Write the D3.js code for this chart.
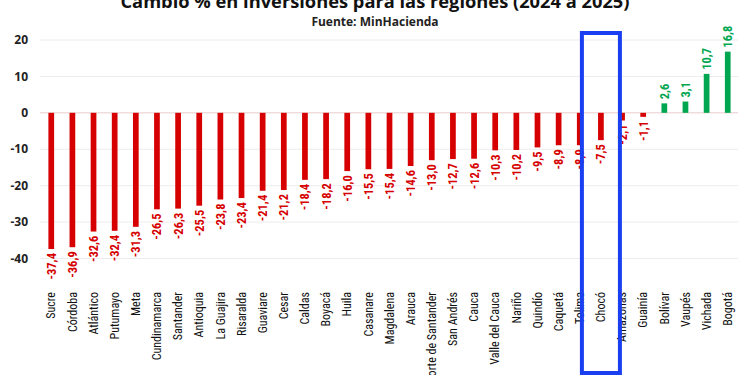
<!DOCTYPE html>
<html>
<head>
<meta charset="utf-8">
<script src="https://cdn.jsdelivr.net/npm/d3@7"></script>
<style>
  body { margin: 0; background: #fff; }
  svg { display: block; font-family: "Open Sans", "Liberation Sans", sans-serif; }
</style>
</head>
<body>
<svg id="chart" width="750" height="375"></svg>
<script>
// regiones y cambio % (2024 a 2025)
var regions = ['Sucre', 'Córdoba', 'Atlántico', 'Putumayo', 'Meta', 'Cundinamarca', 'Santander',
    'Antioquia', 'La Guajira', 'Risaralda', 'Guaviare', 'Cesar', 'Caldas', 'Boyacá', 'Huila',
    'Casanare', 'Magdalena', 'Arauca', 'Norte de Santander', 'San Andrés', 'Cauca',
    'Valle del Cauca', 'Nariño', 'Quindío', 'Caquetá', 'Tolima', 'Chocó', 'Amazonas', 'Guainía',
    'Bolívar', 'Vaupés', 'Vichada', 'Bogotá'];
var change = [-37.4, -36.9, -32.6, -32.4, -31.3, -26.5, -26.3, -25.5, -23.8, -23.4, -21.4, -21.2,
    -18.4, -18.2, -16.0, -15.5, -15.4, -14.6, -13.0, -12.7, -12.6, -10.3, -10.2, -9.5, -8.9, -8.9,
    -7.5, -2.1, -1.1, 2.6, 3.1, 10.7, 16.8];
var yTicks = [20, 10, 0, -10, -20, -30, -40];
var highlight = 'Chocó';

var data = regions.map(function(r, i){ return {name: r, value: change[i]}; });

var svg = d3.select('#chart');
var red = '#d60000', green = '#00a650';
var narrow = '"Liberation Sans Narrow", "Roboto Condensed", "Open Sans", sans-serif';

var x = d3.scaleBand()
    .domain(regions)
    .range([41, 738])
    .paddingInner(0.73)
    .paddingOuter(0.35);

var y = d3.scaleLinear()
    .domain([-40, 20])
    .range([258.5, 40]);

// titulo
svg.append('text')
    .attr('x', 375).attr('y', 8)
    .attr('text-anchor', 'middle')
    .attr('font-size', 18.3).attr('font-weight', 'bold')
    .attr('fill', '#111')
    .text('Cambio % en inversiones para las regiones (2024 a 2025)');
svg.append('text')
    .attr('x', 375).attr('y', 25.5)
    .attr('text-anchor', 'middle')
    .attr('font-size', 12).attr('font-weight', 'bold')
    .attr('fill', '#222')
    .text('Fuente: MinHacienda');

// grid
svg.append('g')
    .selectAll('line')
    .data(yTicks)
    .join('line')
    .attr('x1', 40).attr('x2', 738)
    .attr('y1', function(d){ return y(d); })
    .attr('y2', function(d){ return y(d); })
    .attr('stroke', function(d){ return d == 0 ? '#e8cccc' : '#ececec'; })
    .attr('stroke-width', 1);

svg.append('g')
    .selectAll('text')
    .data(yTicks)
    .join('text')
    .attr('x', 28)
    .attr('y', function(d){ return y(d); })
    .attr('dy', '0.35em')
    .attr('text-anchor', 'end')
    .attr('font-size', 12).attr('font-weight', 'bold')
    .attr('fill', '#222')
    .text(function(d){ return d; });

// barras
svg.append('g')
    .selectAll('rect')
    .data(data)
    .join('rect')
    .attr('x', function(d){ return x(d.name); })
    .attr('width', x.bandwidth())
    .attr('y', function(d){ return y(Math.max(0, d.value)); })
    .attr('height', function(d){ return Math.abs(y(d.value) - y(0)); })
    .attr('fill', function(d){ return d.value < 0 ? red : green; });

// etiquetas de valor
var fmt = function(v){ return v.toFixed(1).replace('.', ','); };
svg.append('g')
    .selectAll('text')
    .data(data)
    .join('text')
    .attr('transform', function(d){
        var cx = x(d.name) + x.bandwidth() / 2;
        var cy = d.value < 0 ? y(d.value) + 4 : y(d.value) - 4;
        return 'translate(' + cx + ',' + cy + ') rotate(-90)';
    })
    .attr('dy', '0.36em')
    .attr('text-anchor', function(d){ return d.value < 0 ? 'end' : 'start'; })
    .attr('font-size', 12.5).attr('font-weight', 'bold')
    .attr('fill', function(d){ return d.value < 0 ? red : green; })
    .style('font-family', narrow)
    .text(function(d){ return fmt(d.value); });

// etiquetas de categoria
svg.append('g')
    .selectAll('text')
    .data(regions)
    .join('text')
    .attr('transform', function(d){
        return 'translate(' + (x(d) + x.bandwidth() / 2) + ',292) rotate(-90)';
    })
    .attr('dy', '0.35em')
    .attr('text-anchor', 'end')
    .attr('font-size', 12)
    .attr('fill', '#111')
    .style('font-family', narrow)
    .text(function(d){ return d; });

// recuadro resaltado
var hx = x(highlight) + x.bandwidth() / 2;
svg.append('rect')
    .attr('x', hx - 19).attr('y', 33)
    .attr('width', 38).attr('height', 340)
    .attr('fill', 'none')
    .attr('stroke', '#1a3ff0')
    .attr('stroke-width', 4);
</script>
</body>
</html>
